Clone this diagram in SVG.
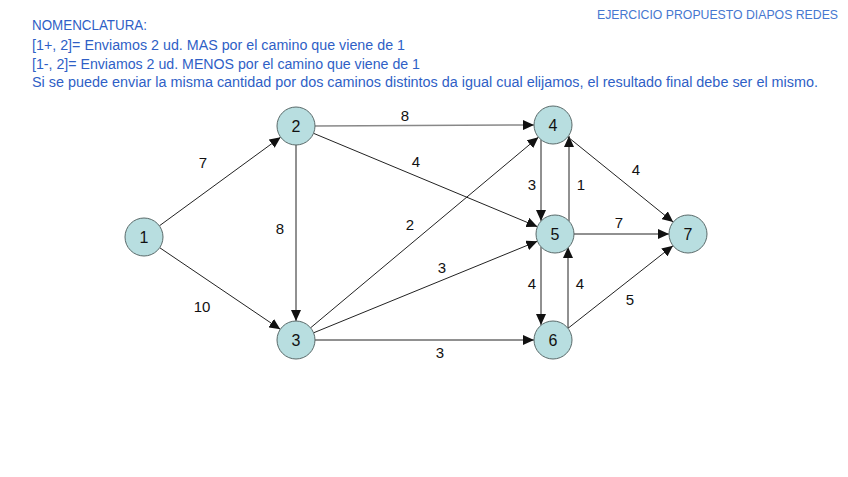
<svg xmlns="http://www.w3.org/2000/svg" width="848" height="477" viewBox="0 0 848 477">
<style>
.hdr{font-family:"Liberation Sans",Arial,sans-serif;font-size:14px;fill:#2f5fc6}
.ttl{font-family:"Liberation Sans",Arial,sans-serif;font-size:13px;fill:#4677d0}
.nd circle{fill:#b8dee0;stroke:#5a6a6a;stroke-width:1}
.nd text{font-family:"Liberation Sans",Arial,sans-serif;font-size:16px;fill:#111;text-anchor:middle}
.e{stroke:#222;stroke-width:1;fill:none;marker-end:url(#ah)}
.lb{font-family:"Liberation Sans",Arial,sans-serif;font-size:15px;fill:#111;text-anchor:middle}
</style>
<defs>
<marker id="ah" markerUnits="userSpaceOnUse" markerWidth="12" markerHeight="10" refX="11" refY="5" orient="auto">
<path d="M0,0 L11,5 L0,10 Z" fill="#111"/>
</marker>
</defs>
<rect width="848" height="477" fill="#fff"/>
<g id="header">
<text class="ttl" x="597" y="19" textLength="241" lengthAdjust="spacingAndGlyphs">EJERCICIO PROPUESTO DIAPOS REDES</text>
<text class="hdr" x="32" y="30" textLength="115" lengthAdjust="spacingAndGlyphs">NOMENCLATURA:</text>
<text class="hdr" x="32" y="50" textLength="373" lengthAdjust="spacingAndGlyphs">[1+, 2]= Enviamos 2 ud. MAS por el camino que viene de 1</text>
<text class="hdr" x="32" y="69" textLength="388" lengthAdjust="spacingAndGlyphs">[1-, 2]= Enviamos 2 ud. MENOS por el camino que viene de 1</text>
<text class="hdr" x="32" y="87" textLength="786" lengthAdjust="spacingAndGlyphs">Si se puede enviar la misma cantidad por dos caminos distintos da igual cual elijamos, el resultado final debe ser el mismo.</text>
</g>
<g id="connectors">
<line class="e" x1="159.4" y1="225.8" x2="280.6" y2="137.2"/>
<line class="e" x1="159.7" y1="247.7" x2="280.3" y2="329.3"/>
<line class="e" x1="296" y1="145" x2="296" y2="321"/>
<line class="e" x1="315" y1="126" x2="534" y2="125" style="stroke:#888;stroke-width:1.5"/>
<line class="e" x1="313.5" y1="133.3" x2="537.5" y2="226.7"/>
<line class="e" x1="310.6" y1="327.8" x2="538.4" y2="137.2"/>
<line class="e" x1="313.6" y1="332.8" x2="537.4" y2="241.2"/>
<line class="e" x1="315" y1="340" x2="534" y2="340"/>
<line class="e" x1="541" y1="140" x2="541" y2="221"/>
<line class="e" x1="569" y1="221" x2="569" y2="136"/>
<line class="e" x1="541" y1="247" x2="541" y2="325"/>
<line class="e" x1="568" y1="328" x2="568" y2="247"/>
<line class="e" x1="567.8" y1="136.9" x2="673.2" y2="222.1"/>
<line class="e" x1="574" y1="234" x2="669" y2="234"/>
<line class="e" x1="568" y1="328.3" x2="673" y2="245.7"/>
</g>
<g id="labels">
<text class="lb" x="405" y="121">8</text>
<text class="lb" x="203" y="168">7</text>
<text class="lb" x="416" y="167">4</text>
<text class="lb" x="280" y="234">8</text>
<text class="lb" x="410" y="230">2</text>
<text class="lb" x="442" y="273">3</text>
<text class="lb" x="202" y="312">10</text>
<text class="lb" x="440" y="358">3</text>
<text class="lb" x="532" y="190">3</text>
<text class="lb" x="581" y="190">1</text>
<text class="lb" x="636" y="175">4</text>
<text class="lb" x="619" y="228">7</text>
<text class="lb" x="532" y="289">4</text>
<text class="lb" x="580" y="289">4</text>
<text class="lb" x="630" y="305">5</text>
</g>
<g id="n1" class="nd"><circle cx="144" cy="237" r="19"/><text x="144" y="243">1</text></g>
<g id="n2" class="nd"><circle cx="296" cy="126" r="19"/><text x="296" y="132">2</text></g>
<g id="n3" class="nd"><circle cx="296" cy="340" r="19"/><text x="296" y="346">3</text></g>
<g id="n4" class="nd"><circle cx="553" cy="125" r="19"/><text x="553" y="131">4</text></g>
<g id="n5" class="nd"><circle cx="555" cy="234" r="19"/><text x="555" y="240">5</text></g>
<g id="n6" class="nd"><circle cx="553" cy="340" r="19"/><text x="553" y="346">6</text></g>
<g id="n7" class="nd"><circle cx="688" cy="234" r="19"/><text x="688" y="240">7</text></g>
</svg>
